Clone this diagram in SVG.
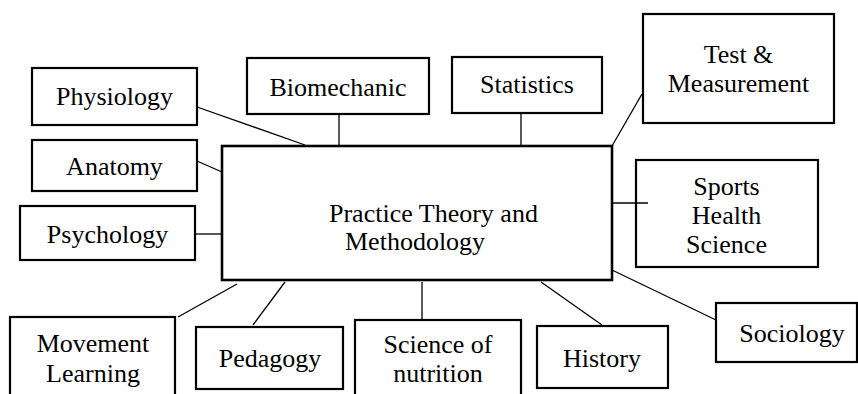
<svg xmlns="http://www.w3.org/2000/svg" width="858" height="394" viewBox="0 0 858 394">
<style>
.box{fill:#fff;stroke:#000;stroke-width:2.2}
.main{fill:#fff;stroke:#000;stroke-width:2.6}
text{font-family:'Liberation Serif','Times New Roman',serif;font-size:26px;fill:#000}
.lbl{text-anchor:middle}
#connectors line{stroke:#000;stroke-width:1.3}
</style>
<rect width="858" height="394" fill="#fff"/>
<g id="main">
<rect class="main" x="222" y="146" width="390" height="134"/>
<text x="329" y="222">Practice Theory and</text>
<text x="345" y="250">Methodology</text>
</g>
<g id="physiology"><rect class="box" x="32" y="68" width="165" height="57"/><text class="lbl" x="114.5" y="105">Physiology</text></g>
<g id="anatomy"><rect class="box" x="32" y="140" width="165" height="51"/><text class="lbl" x="114.5" y="175">Anatomy</text></g>
<g id="psychology"><rect class="box" x="20" y="206" width="175" height="54"/><text class="lbl" x="107.5" y="243">Psychology</text></g>
<g id="biomechanic"><rect class="box" x="247" y="58" width="182" height="56"/><text class="lbl" x="338" y="96">Biomechanic</text></g>
<g id="statistics"><rect class="box" x="452" y="57" width="150" height="56"/><text class="lbl" x="527" y="93">Statistics</text></g>
<g id="test"><rect class="box" x="643" y="14" width="191" height="109"/><text class="lbl" x="738.5" y="63">Test &amp;</text><text class="lbl" x="738.5" y="92">Measurement</text></g>
<g id="sports"><rect class="box" x="636" y="160" width="182" height="107"/><text class="lbl" x="726.5" y="195">Sports</text><text class="lbl" x="726.5" y="224">Health</text><text class="lbl" x="726.5" y="253">Science</text></g>
<g id="sociology"><rect class="box" x="716" y="303" width="141" height="59"/><text class="lbl" x="792" y="342">Sociology</text></g>
<g id="history"><rect class="box" x="537" y="326" width="131" height="62"/><text class="lbl" x="602" y="367">History</text></g>
<g id="nutrition"><rect class="box" x="355" y="320" width="166" height="90"/><text class="lbl" x="438" y="353">Science of</text><text class="lbl" x="438" y="382">nutrition</text></g>
<g id="pedagogy"><rect class="box" x="196" y="327" width="147" height="62"/><text class="lbl" x="270" y="367">Pedagogy</text></g>
<g id="movement"><rect class="box" x="10" y="317" width="165" height="90"/><text class="lbl" x="93" y="352">Movement</text><text class="lbl" x="93" y="382">Learning</text></g>
<g id="connectors">
<line x1="197" y1="107" x2="305" y2="145"/>
<line x1="197" y1="161" x2="222" y2="172"/>
<line x1="195" y1="234" x2="222" y2="234"/>
<line x1="339" y1="114" x2="339" y2="146"/>
<line x1="521" y1="113" x2="521" y2="146"/>
<line x1="612" y1="146" x2="642" y2="94"/>
<line x1="612" y1="203" x2="648" y2="203"/>
<line x1="612" y1="270" x2="716" y2="320"/>
<line x1="541" y1="282" x2="602" y2="325"/>
<line x1="422" y1="282" x2="422" y2="320"/>
<line x1="285" y1="282" x2="253" y2="325"/>
<line x1="237" y1="284" x2="178" y2="317"/>
</g>
</svg>
